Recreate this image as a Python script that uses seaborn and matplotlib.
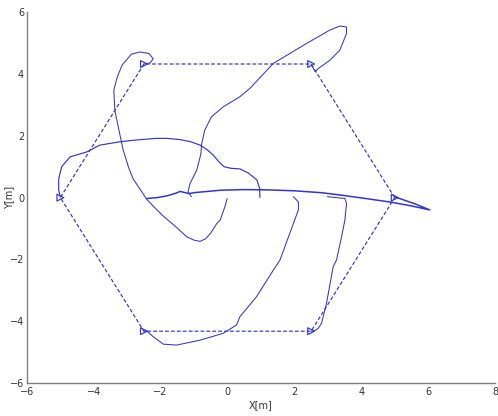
import numpy as np
import pandas as pd
import matplotlib
matplotlib.use('Agg')
import matplotlib.pyplot as plt
import seaborn as sns

# Formation targets (hexagon vertices), closed
hex_x = [5.0, 2.5, -2.5, -5.0, -2.5, 2.5, 5.0]
hex_y = [0.0, 4.33, 4.33, 0.0, -4.33, -4.33, 0.0]

# Robot trajectories
traj_a_x = [-2.42, -2.1, -1.8, -1.55, -1.42, -1.3, -1.15, -1.0, -0.6, -0.2, 0.5, 1.2, 2.0, 2.8, 3.4, 4.2, 4.9, 5.5, 6.05, 5.6, 5.2, 5.02]
traj_a_y = [-0.03, 0.0, 0.06, 0.14, 0.2, 0.17, 0.13, 0.16, 0.2, 0.24, 0.26, 0.25, 0.22, 0.16, 0.08, -0.04, -0.15, -0.27, -0.4, -0.2, -0.05, 0.02]

traj_b_x = [0.97, 0.96, 0.88, 0.62, 0.37, 0.1, -0.1, -0.25, -0.43, -0.62, -0.82, -1.1, -1.42, -1.8, -2.12, -2.7, -3.22, -3.82, -4.21, -4.71, -4.96, -5.05, -5.05, -5.0]
traj_b_y = [0.0, 0.3, 0.57, 0.8, 0.93, 0.95, 1.0, 1.15, 1.38, 1.56, 1.7, 1.81, 1.88, 1.92, 1.92, 1.87, 1.81, 1.7, 1.48, 1.32, 1.0, 0.6, 0.25, 0.02]

traj_c_x = [-0.01, -0.08, -0.22, -0.32, -0.51, -0.65, -0.82, -1.0, -1.22, -1.52, -1.92, -2.2, -2.42, -2.6, -2.82, -2.95, -3.12, -3.25, -3.37, -3.4, -3.3, -3.15, -2.87, -2.62, -2.35, -2.22, -2.32, -2.5]
traj_c_y = [-0.03, -0.3, -0.73, -0.84, -1.16, -1.33, -1.42, -1.38, -1.27, -0.97, -0.6, -0.3, -0.05, 0.25, 0.6, 0.95, 1.54, 2.2, 2.83, 3.48, 3.9, 4.3, 4.65, 4.72, 4.67, 4.5, 4.36, 4.33]

traj_d_x = [-1.08, -1.18, -1.12, -0.92, -0.8, -0.77, -0.68, -0.48, -0.13, 0.37, 0.67, 1.37, 2.37, 3.06, 3.36, 3.56, 3.56, 3.36, 3.06, 2.71, 2.62, 2.5]
traj_d_y = [0.03, 0.19, 0.46, 0.89, 1.4, 1.76, 2.19, 2.62, 2.94, 3.27, 3.54, 4.35, 5.0, 5.43, 5.56, 5.53, 5.32, 4.78, 4.45, 4.18, 4.08, 4.33]

traj_e_x = [2.99, 3.51, 3.56, 3.51, 3.41, 3.26, 3.16, 2.96, 2.81, 2.71, 2.62, 2.5]
traj_e_y = [0.03, -0.03, -0.19, -0.73, -1.27, -2.02, -2.24, -3.43, -4.08, -4.24, -4.31, -4.33]

traj_f_x = [1.97, 2.12, 2.12, 1.97, 1.57, 1.37, 0.87, 0.37, 0.27, -0.13, -0.82, -1.52, -1.92, -2.22, -2.42, -2.5]
traj_f_y = [0.03, -0.14, -0.4, -0.84, -2.02, -2.35, -3.21, -3.86, -4.13, -4.4, -4.62, -4.78, -4.75, -4.51, -4.32, -4.33]

trajectories = [
    (traj_a_x, traj_a_y, 1.1),
    (traj_b_x, traj_b_y, 0.85),
    (traj_c_x, traj_c_y, 0.75),
    (traj_d_x, traj_d_y, 0.75),
    (traj_e_x, traj_e_y, 0.75),
    (traj_f_x, traj_f_y, 0.75),
]

sns.set_style('white')
plt.rcParams['font.family'] = ['DejaVu Sans']
line_color = '#3535cc'

fig = plt.figure(figsize=(4.98, 4.16), dpi=100)
ax = fig.add_axes([0.054, 0.080, 0.940, 0.890])

# dashed hexagon of goal positions
sns.lineplot(x=hex_x, y=hex_y, sort=False, estimator=None, ax=ax,
             color=line_color, linewidth=0.85)
ax.lines[-1].set_dashes((3.2, 1.8))
sns.scatterplot(x=hex_x[:-1], y=hex_y[:-1], marker='>', s=24, ax=ax,
                facecolor='none', edgecolor=line_color, linewidth=0.85)

for tx, ty, lw in trajectories:
    sns.lineplot(x=tx, y=ty, sort=False, estimator=None, ax=ax,
                 color=line_color, linewidth=lw)

ax.set_xlim(-6, 8)
ax.set_ylim(-6, 6)
ax.set_xticks(np.arange(-6, 9, 2))
ax.set_yticks(np.arange(-6, 7, 2))
ax.set_xlabel('X[m]', fontsize=7, color='#333333', labelpad=2)
ax.set_ylabel('Y[m]', fontsize=7, color='#333333')
ax.yaxis.set_label_coords(-0.027, 0.5)

for side in ['top', 'right']:
    ax.spines[side].set_visible(False)
for side in ['left', 'bottom']:
    ax.spines[side].set_color('#808080')
    ax.spines[side].set_linewidth(1.0)
ax.tick_params(axis='x', direction='in', length=6, width=0.8, color='#808080',
               labelsize=7, labelcolor='#333333', pad=3)
ax.tick_params(axis='y', direction='in', length=4, width=0.8, color='#808080',
               labelsize=7, labelcolor='#333333', pad=2)

fig.savefig('out.png', dpi=100)
